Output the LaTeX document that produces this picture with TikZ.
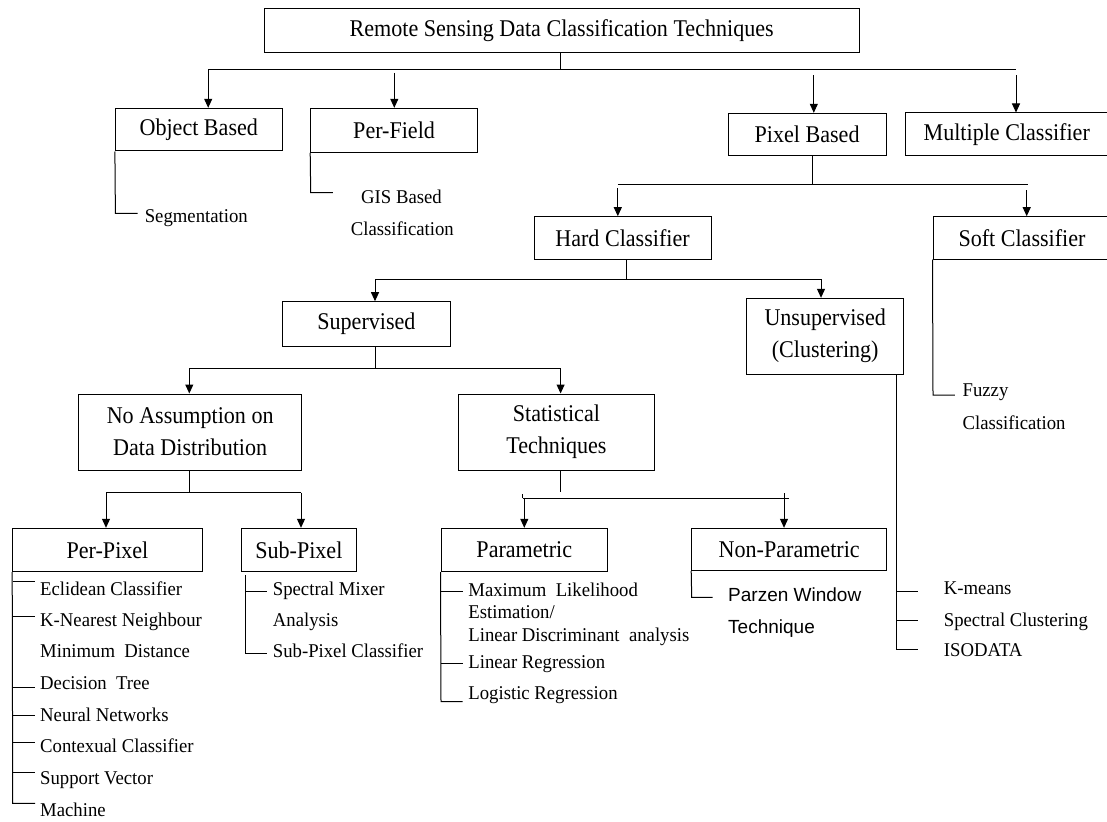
\documentclass[tikz,border=0pt]{standalone}
\usepackage{fontspec}
\setmainfont{Liberation Serif}
\newfontfamily\boxf{Liberation Serif}[FakeStretch=0.92]
\newfontfamily\leaff{Liberation Serif}[FakeStretch=0.96]
\newfontfamily\sansf{Liberation Sans}
\usetikzlibrary{arrows.meta}
\begin{document}
\begin{tikzpicture}[x=1pt,y=-1pt,
  box/.style={draw, line width=1pt, inner sep=0pt, align=center, font=\boxf\fontsize{24}{32}\selectfont},
  leaf/.style={anchor=base west, inner sep=0pt, font=\leaff\fontsize{19.5}{22.5}\selectfont},
  cleaf/.style={anchor=base, inner sep=0pt, font=\leaff\fontsize{19.5}{22.5}\selectfont},
  ln/.style={line width=1pt},
  arr/.style={line width=1pt, -{Triangle[length=9pt,width=8pt]}}]
\useasboundingbox (0,0) rectangle (1107,821);
\clip (0,0) rectangle (1107,821);
\fill[white] (0,0) rectangle (1107,821);

% ---------- boxes ----------
\node[box, minimum width=594.7pt, minimum height=44pt] (title) at (561.7,30.3) {Remote Sensing Data Classification Techniques};
\node[box, minimum width=166.7pt, minimum height=42.7pt] (obj) at (198.75,129.65) {Object Based};
\node[box, minimum width=166.8pt, minimum height=44pt] (pf) at (394.1,130.3) {Per-Field};
\node[box, minimum width=158pt, minimum height=42.4pt] (pix) at (807.1,134.5) {Pixel Based};
\node[box, minimum width=202.5pt, minimum height=43pt] (mult) at (1006.75,134.5) {Multiple Classifier};
\node[box, minimum width=177pt, minimum height=42.6pt] (hard) at (622.5,238) {Hard Classifier};
\node[box, minimum width=178pt, minimum height=42.3pt] (soft) at (1022,237.85) {Soft Classifier};
\node[box, minimum width=168.6pt, minimum height=45pt] (sup) at (366.4,324.2) {Supervised};
\node[box, minimum width=156.6pt, minimum height=75.7pt] (unsup) at (825.2,336.15) {Unsupervised\\(Clustering)};
\node[box, minimum width=223.2pt, minimum height=76pt] (noas) at (190.2,432) {No Assumption on\\Data Distribution};
\node[box, minimum width=196.4pt, minimum height=76pt] (stat) at (556.4,432) {Statistical\\Techniques};
\node[box, minimum width=189.6pt, minimum height=43.4pt] (perpix) at (107.5,550) {Per-Pixel};
\node[box, minimum width=114.3pt, minimum height=43.4pt] (subpix) at (298.85,550) {Sub-Pixel};
\node[box, minimum width=166.6pt, minimum height=43.4pt] (param) at (524.3,550) {Parametric};
\node[box, minimum width=195pt, minimum height=42.4pt] (nonpar) at (789.2,549.5) {Non-Parametric};

% ---------- level 1 ----------
\coordinate (s0) at (560.6,70);
\coordinate (b0l) at (208.2,70);
\coordinate (b0r) at (1015.5,70);
\coordinate (a0b) at (394.3,73);
\coordinate (a0c) at (813.8,75.3);
\coordinate (a0d) at (1016,75.3);
\draw[ln] (title.south -| s0) -- (s0);
\draw[ln] (b0l) -- (b0r);
\draw[arr] (b0l) -- (b0l |- obj.north);
\draw[arr] (a0b) -- (a0b |- pf.north);
\draw[arr] (a0c) -- (a0c |- pix.north);
\draw[arr] (a0d) -- (a0d |- mult.north);

% ---------- pixel based ----------
\coordinate (s1) at (812.3,184.3);
\coordinate (b1l) at (617.8,184.3);
\coordinate (b1r) at (1027.5,184.3);
\coordinate (a1a) at (617.8,188);
\coordinate (a1b) at (1026.7,190);
\draw[ln] (pix.south -| s1) -- (s1);
\draw[ln] (b1l) -- (b1r);
\draw[arr] (a1a) -- (a1a |- hard.north);
\draw[arr] (a1b) -- (a1b |- soft.north);

% ---------- hard classifier ----------
\coordinate (s2) at (626.8,279.3);
\coordinate (b2l) at (375,279.3);
\coordinate (b2r) at (821,279.3);
\draw[ln] (hard.south -| s2) -- (s2);
\draw[ln] (b2l) -- (b2r);
\draw[arr] (b2l) -- (b2l |- sup.north);
\draw[arr] (b2r) -- (b2r |- unsup.north);

% ---------- supervised ----------
\coordinate (s3) at (375,368.3);
\coordinate (b3l) at (189.3,368.3);
\coordinate (b3r) at (560.6,368.3);
\draw[ln] (sup.south -| s3) -- (s3);
\draw[ln] (b3l) -- (b3r);
\draw[arr] (b3l) -- (b3l |- noas.north);
\draw[arr] (b3r) -- (b3r |- stat.north);

% ---------- no assumption ----------
\coordinate (s4) at (189.3,492.7);
\coordinate (b4l) at (106,492.7);
\coordinate (b4r) at (301,492.7);
\draw[ln] (noas.south -| s4) -- (s4);
\draw[ln] (b4l) -- (b4r);
\draw[arr] (b4l) -- (b4l |- perpix.north);
\draw[arr] (b4r) -- (b4r |- subpix.north);

% ---------- statistical ----------
\coordinate (s5) at (560.6,492.3);
\coordinate (b5l) at (522.7,498.3);
\coordinate (b5r) at (789.3,498.3);
\coordinate (a5a) at (524.3,498.3);
\coordinate (a5b) at (784,498.3);
\draw[ln] (stat.south -| s5) -- (s5);
\draw[ln] (b5l) -- (b5r);
\draw[ln] (b5l) -- ++(0,-4.5);
\draw[ln] (a5b) -- ++(0,-5);
\draw[arr] (a5a) -- (a5a |- param.north);
\draw[arr] (a5b) -- (a5b |- nonpar.north);

% ---------- leaves: object based ----------
\draw[ln] (obj.south west) -- (115.4,213.3) -- (137.5,213.3);
\node[leaf] (seg) at (144.6,222) {Segmentation};

% ---------- leaves: per-field ----------
\draw[ln] (pf.south west) -- (310.7,192.7) -- (332.9,192.7);
\node[cleaf] (gis1) at (401.5,203.3) {GIS Based};
\node[cleaf] (gis2) at (402.3,235) {Classification};

% ---------- leaves: soft ----------
\draw[ln] (soft.south west) -- (933,395) -- (954.8,395);
\node[leaf] (fz1) at (962.4,396.7) {Fuzzy};
\node[leaf] (fz2) at (962.4,429.3) {Classification};

% ---------- leaves: unsupervised ----------
\coordinate (u0) at (896.3,374);
\draw[ln] (u0) -- (896.3,649) -- (918.2,649);
\foreach \yy in {591.7,620.7} \draw[ln] (896.3,\yy) -- (918.2,\yy);
\node[leaf] (km) at (943.7,594.3) {K-means};
\node[leaf] (sc) at (943.7,626) {Spectral Clustering};
\node[leaf] (iso) at (943.7,656.7) {ISODATA};

% ---------- leaves: per-pixel ----------
\draw[ln] (perpix.south west) -- (12.7,803.3) -- (35,803.3);
\foreach \yy in {581.7,616.7,687.3,715,742.7,772.3} \draw[ln] (12.7,\yy) -- (35,\yy);
\node[leaf] (pp1) at (40,595) {Eclidean Classifier};
\node[leaf] (pp2) at (40,626.7) {K-Nearest Neighbour};
\node[leaf] (pp3) at (40,657.7) {Minimum\ \ Distance};
\node[leaf] (pp4) at (40,689.3) {Decision\ \ Tree};
\node[leaf] (pp5) at (40,721) {Neural Networks};
\node[leaf] (pp6) at (40,752.7) {Contexual Classifier};
\node[leaf] (pp7) at (40,784.3) {Support Vector};
\node[leaf] (pp8) at (40,816.7) {Machine};

% ---------- leaves: sub-pixel ----------
\draw[ln] (245,575) -- (245,653.3) -- (266.7,653.3);
\draw[ln] (245,591.7) -- (266.7,591.7);
\node[leaf] (sp1) at (272.7,595) {Spectral Mixer};
\node[leaf] (sp2) at (272.7,626.7) {Analysis};
\node[leaf] (sp3) at (272.7,657.7) {Sub-Pixel Classifier};

% ---------- leaves: parametric ----------
\draw[ln] (param.south west) -- (441,701.7) -- (462.5,701.7);
\foreach \yy in {591.7,663.3} \draw[ln] (441,\yy) -- (462.5,\yy);
\node[leaf] (pa1) at (468.2,596.7) {Maximum\ \ Likelihood};
\node[leaf] (pa2) at (468.2,618.3) {Estimation/};
\node[leaf] (pa3) at (468.2,641.7) {Linear Discriminant\ \ analysis};
\node[leaf] (pa4) at (468.2,668.3) {Linear Regression};
\node[leaf] (pa5) at (468.2,699) {Logistic Regression};

% ---------- leaves: non-parametric ----------
\draw[ln] (nonpar.south west) -- (691.7,597.3) -- (712.7,597.3);
\node[leaf, font=\sansf\fontsize{19}{23}\selectfont] (pz1) at (728,601) {Parzen Window};
\node[leaf, font=\sansf\fontsize{19}{23}\selectfont] (pz2) at (728,633.3) {Technique};
\end{tikzpicture}
\end{document}
